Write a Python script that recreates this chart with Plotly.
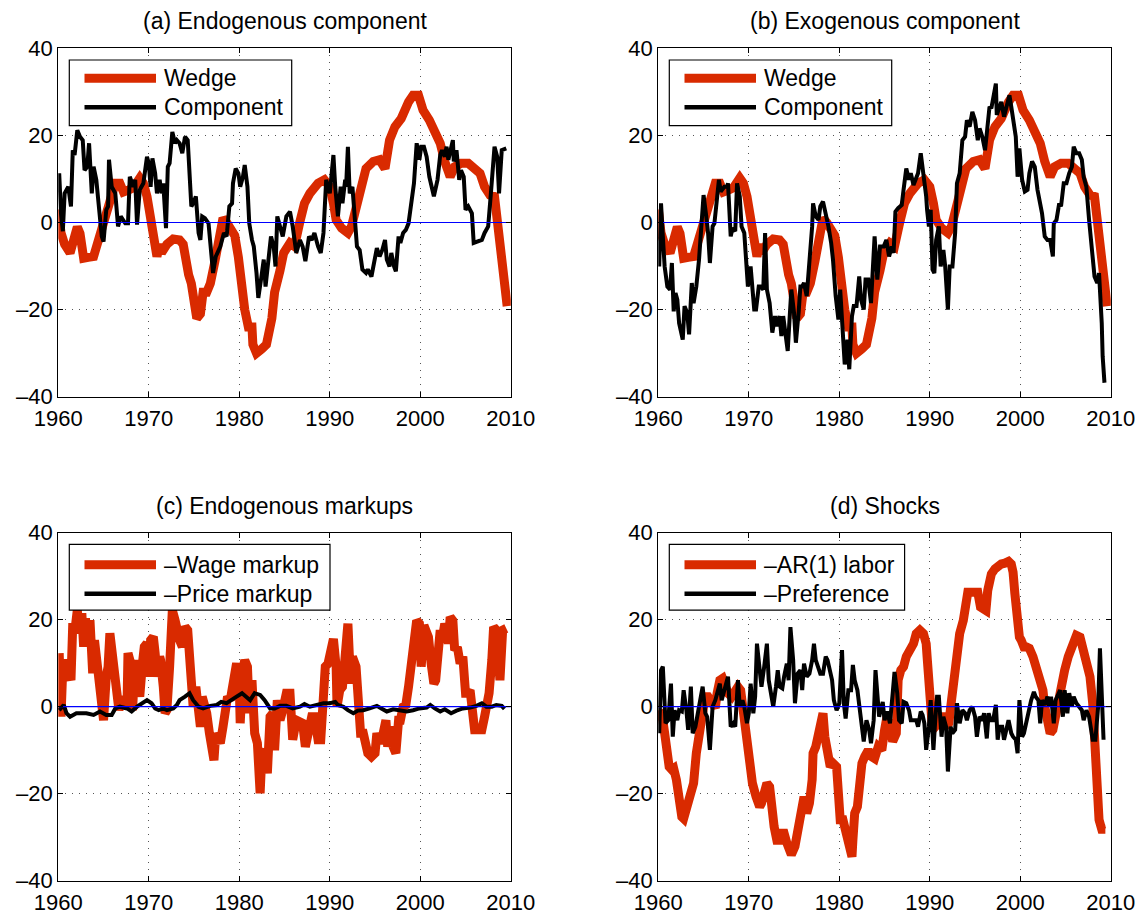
import plotly.graph_objects as go

# ---------------- data ----------------
wedge = [(1960.0,3),(1960.3,-2.4),(1960.7,-5),(1961.3,-7),(1961.7,-4),(1962.1,-1),(1962.4,-2.5),(1962.8,-8.2),
(1963.3,-8),(1963.9,-7.8),(1964.3,-5),(1964.8,-1),(1965.3,3),(1965.8,6),(1966.3,9),(1966.8,9),(1967.2,7),(1967.8,7.5),
(1968.3,8),(1969.0,10.2),(1969.4,9),(1969.8,6),(1970.3,-1),(1970.7,-5.5),(1970.9,-7.8),(1971.2,-5),(1971.4,-7),(1971.7,-6),
(1972.0,-5),(1972.7,-3.8),(1973.4,-4),(1973.8,-5),(1974.0,-7.8),(1974.4,-12),(1974.7,-14),(1975.1,-20),(1975.3,-22),
(1975.7,-21),(1976.0,-16),(1976.4,-16),(1976.8,-14),(1977.3,-9),(1977.7,-5),(1978.0,0),(1978.2,1),(1978.6,0),(1979.0,-1),
(1979.5,-3),(1979.9,-8),(1980.1,-12),(1980.3,-15),(1980.6,-20),(1981.0,-24),(1981.4,-24),(1981.5,-28),(1981.9,-30),
(1982.5,-29),(1983.0,-28),(1983.6,-22),(1983.9,-16),(1984.5,-11),(1984.9,-7),(1985.6,-4.7),(1986.1,-5.5),(1986.7,0.2),
(1987.2,4.4),(1987.8,6.7),(1988.3,7.9),(1988.7,9),(1989.4,9.8),(1990.0,8.2),(1990.4,4.4),(1990.7,0.6),(1991.3,-1.3),
(1992.0,-2.4),(1992.4,-0.9),(1992.9,2.9),(1993.5,8.2),(1994.0,12.4),(1994.8,14),(1995.5,14.4),(1996.1,12.4),(1996.6,18.9),
(1997.2,22),(1997.9,23.9),(1998.7,27.7),(1999.2,29.2),(1999.8,29.2),(2000.3,25.8),(2001.0,23.5),(2001.6,21.2),(2002.2,18.2),
(2002.7,14),(2003.3,10.5),(2003.8,12.8),(2004.5,13.6),(2005.3,13.6),(2005.8,12.8),(2006.6,11.3),(2007.1,8.2),(2007.7,6.3),
(2008.2,6),(2008.6,-0.9),(2009.0,-11.6),(2009.6,-19.2)]

endog_component = [(1960.1,11.3),(1960.3,2),(1960.5,-2),(1960.7,6.7),(1961.1,8.2),(1961.4,3.7),(1961.6,16.6),(1961.8,15.5),
(1962.1,21.2),(1962.4,19.7),(1962.7,18.9),(1962.9,12),(1963.2,12.8),(1963.4,18.2),(1963.7,6.7),(1963.9,12.8),(1964.2,9.8),
(1964.4,6),(1964.8,-3.2),(1965.0,-4.4),(1965.3,2.9),(1965.5,3.7),(1965.6,14.4),(1965.9,8.2),(1966.3,6.7),(1966.6,-0.9),
(1966.9,1.4),(1967.4,-0.2),(1967.7,-0.2),(1967.9,10.5),(1968.3,8.2),(1968.5,9.8),(1968.7,-0.5),(1969.0,7.5),(1969.4,9),
(1969.8,15.1),(1970.0,13.6),(1970.2,8.2),(1970.4,14.7),(1970.7,11.3),(1970.9,6.7),(1971.2,9.8),(1971.4,6.7),(1971.6,9),
(1971.9,-1.3),(1972.1,12.8),(1972.3,13.6),(1972.6,20.8),(1972.9,18.2),(1973.1,18.9),(1973.4,18.2),(1973.7,15.9),(1974.0,19.7),
(1974.3,18.9),(1974.5,9),(1974.7,3.7),(1974.9,4.4),(1975.2,6),(1975.5,-2.4),(1975.7,-4),(1975.9,1.4),(1976.2,1),(1976.6,-0.2),
(1976.8,-4.7),(1977.1,-11.6),(1977.4,-7.8),(1977.7,-6.3),(1977.9,-5.5),(1978.3,-2.4),(1978.6,-3.2),(1978.9,3.7),(1979.2,4.4),
(1979.3,9),(1979.6,12.4),(1979.9,11.3),(1980.1,8.2),(1980.4,10.5),(1980.6,13.2),(1980.9,8.2),(1981.1,-0.2),(1981.4,-4),
(1981.6,-5.5),(1981.9,-11.6),(1982.1,-17.3),(1982.4,-13.1),(1982.7,-8.5),(1982.9,-14.7),(1983.2,-9.3),(1983.5,-3.2),
(1983.8,-5.5),(1984.0,-10.1),(1984.2,1.4),(1984.8,-3.2),(1985.2,1.4),(1985.6,2.5),(1985.9,-0.9),(1986.3,-7),(1986.7,-4),
(1987.0,-5.5),(1987.3,-8.9),(1987.7,-3.2),(1988.0,-4),(1988.3,-2.4),(1988.7,-5.5),(1989.0,-7),(1989.3,-2.4),(1989.6,9.8),
(1990.0,6.7),(1990.4,15.5),(1990.6,8.2),(1990.9,1.4),(1991.2,8.2),(1991.4,4.4),(1991.7,9.8),(1991.8,8.2),(1992.0,17.4),
(1992.2,6.7),(1992.5,8.2),(1992.8,1.4),(1993.0,-5.5),(1993.3,-6.3),(1993.6,-10.8),(1994.0,-11.6),(1994.2,-10.8),(1994.6,-12.4),
(1995.0,-8.5),(1995.2,-5.9),(1995.5,-7.8),(1995.8,-6.3),(1996.1,-4),(1996.3,-8.5),(1996.6,-10.1),(1996.8,-7),(1997.1,-10.1),
(1997.3,-11.2),(1997.6,-3.2),(1997.8,-4.7),(1998.1,-2.4),(1998.4,-1.7),(1998.7,-0.2),(1999.0,5.2),(1999.3,9),(1999.6,18.2),
(1999.9,14.4),(2000.1,17.4),(2000.4,17.4),(2000.7,15.1),(2001.0,10.5),(2001.5,6),(2001.9,9.8),(2002.2,15.5),(2002.4,16.6),
(2002.7,15.1),(2002.9,17.4),(2003.1,14.4),(2003.3,16.6),(2003.6,18.9),(2003.7,14),(2004.0,16.6),(2004.3,9.8),(2004.5,12),
(2004.8,10.5),(2005.0,2.9),(2005.3,3.7),(2005.7,2.1),(2005.9,-4.7),(2006.3,-4.4),(2006.8,-4),(2007.1,-2.4),(2007.5,-0.9),
(2007.8,6.7),(2008.0,12.8),(2008.2,17.4),(2008.5,15.1),(2008.7,6.7),(2009.0,16.6),(2009.5,17)]

exog_component = [(1960.1,-10.1),(1960.3,4.4),(1960.5,-3.2),(1960.7,-10.1),(1961.0,-14.7),(1961.3,-15.4),(1961.5,-9.3),
(1961.7,-20.4),(1961.9,-16.2),(1962.1,-17.7),(1962.3,-23.1),(1962.7,-26.9),(1962.9,-19.2),(1963.2,-20.8),(1963.4,-25.7),
(1963.7,-13.9),(1963.9,-18.5),(1964.2,-14.7),(1964.5,-8.5),(1964.8,-0.9),(1965.0,6.3),(1965.3,1.4),(1965.5,-2.4),(1965.7,-9.3),
(1966.0,-0.9),(1966.2,-0.2),(1966.4,3.7),(1966.7,9.8),(1966.9,7.1),(1967.3,8.2),(1967.6,8.2),(1967.7,9),(1968.0,-3.2),
(1968.2,-1.3),(1968.5,-2),(1968.7,9),(1969.0,6),(1969.2,-0.9),(1969.5,-2.4),(1969.7,-8.5),(1969.9,-14.7),(1970.2,-10.1),
(1970.4,-14.7),(1970.6,-20),(1970.8,-20),(1971.1,-14.7),(1971.3,-14.7),(1971.6,-15.4),(1971.8,-2.4),(1972.0,-15.4),
(1972.3,-18.5),(1972.6,-25.3),(1972.9,-21.5),(1973.1,-23.8),(1973.4,-21.5),(1973.6,-26.1),(1973.8,-21.5),(1974.0,-24.6),
(1974.3,-29.5),(1974.5,-22.3),(1974.7,-15.4),(1975.0,-20.8),(1975.2,-27.6),(1975.5,-20.8),(1975.7,-14.7),(1975.9,-14.7),
(1976.1,-13.9),(1976.4,-16.9),(1976.7,-10.1),(1977.0,-0.9),(1977.1,4.4),(1977.4,1.4),(1977.7,0.6),(1977.9,3.7),(1978.2,4.8),
(1978.5,2.1),(1978.8,-0.9),(1979.1,-4.7),(1979.3,-8.5),(1979.6,-16.9),(1979.9,-22.3),(1980.1,-15.4),(1980.4,-25.3),
(1980.6,-32.6),(1980.9,-26.9),(1981.1,-33.7),(1981.4,-21.5),(1981.6,-19.2),(1981.9,-19.2),(1982.2,-12.4),(1982.4,-17.7),
(1982.7,-20),(1982.9,-13.1),(1983.2,-13.1),(1983.5,-18.5),(1983.7,-10.1),(1983.9,-3.2),(1984.2,-13.1),(1984.5,-5.5),
(1984.9,-5.5),(1985.2,-4),(1985.5,-7.8),(1985.8,-5.5),(1986.0,-7),(1986.2,2.5),(1986.5,3.3),(1986.9,4),(1987.1,7.5),
(1987.4,12.4),(1987.7,9.8),(1987.9,11.3),(1988.2,8.6),(1988.5,10.5),(1988.7,11.3),(1989.0,15.9),(1989.3,11.3),(1989.6,6),
(1989.7,2.9),(1989.9,-0.9),(1990.1,2.9),(1990.3,-10.8),(1990.5,-11.6),(1990.7,-4),(1991.0,-0.9),(1991.2,-10.1),(1991.5,-6.3),
(1991.7,-10.1),(1992.0,-20),(1992.2,-10.1),(1992.5,-10.1),(1992.8,-2.4),(1993.0,9),(1993.3,11.3),(1993.6,18.9),(1993.9,19.7),
(1994.1,23.5),(1994.4,22),(1994.7,25.4),(1995.0,23.5),(1995.3,18.9),(1995.5,21.6),(1995.8,19.7),(1996.1,16.6),(1996.3,20.5),
(1996.6,26.6),(1996.8,26.2),(1997.0,28.9),(1997.3,31.9),(1997.4,24.7),(1997.7,26.6),(1997.9,27.7),(1998.2,24.3),(1998.5,26.6),
(1998.8,29.2),(1999.0,26.6),(1999.3,22.7),(1999.5,19.7),(1999.7,10.5),(1999.9,17),(2000.2,9.8),(2000.5,7.1),(2000.8,7.5),
(2001.0,11.3),(2001.3,14),(2001.6,12.8),(2001.9,7.5),(2002.2,3.7),(2002.4,2.1),(2002.7,-3.2),(2003.0,-4),(2003.3,-4),
(2003.6,-7.8),(2003.7,-0.2),(2004.0,0.6),(2004.3,4.4),(2004.5,3.7),(2004.8,9),(2005.1,9),(2005.4,11.3),(2005.7,12.8),
(2005.9,17.4),(2006.2,15.9),(2006.5,15.9),(2006.8,14.4),(2007.0,10.5),(2007.3,8.2),(2007.6,0.6),(2007.9,-7),(2008.2,-12.4),
(2008.5,-13.9),(2008.7,-11.6),(2009.0,-23.1),(2009.1,-30.7),(2009.3,-36.8)]

wage_markup = [(1960.1,12.3),(1960.3,-2.3),(1960.5,9.2),(1960.7,10.7),(1960.9,9.2),(1961.2,6.1),(1961.4,6.1),(1961.6,19.2),
(1961.8,16.9),(1962.1,22.2),(1962.3,17.6),(1962.6,21.5),(1962.8,13.8),(1963.0,20.3),(1963.2,14.6),(1963.5,19.9),(1963.8,7.7),
(1964.0,15.3),(1964.2,10.7),(1964.5,4.6),(1964.8,0),(1965.0,-3.1),(1965.3,6.9),(1965.5,9.2),(1965.7,16.9),(1966.0,10.7),
(1966.3,9.2),(1966.4,2.3),(1966.7,-0.8),(1967.0,2.3),(1967.3,0.8),(1967.6,0.8),(1967.7,12.3),(1968.0,10),(1968.2,-0.8),
(1968.5,10.7),(1968.7,4.6),(1969.0,2.3),(1969.3,10),(1969.5,13.8),(1969.8,14.6),(1970.0,6.9),(1970.2,15.3),(1970.5,16.1),
(1970.7,12.3),(1970.9,6.9),(1971.2,11.5),(1971.3,10.7),(1971.6,4.6),(1971.8,-1.5),(1972.0,-0.8),(1972.3,9.2),(1972.4,13.8),
(1972.6,22.2),(1972.9,19.9),(1973.1,17.6),(1973.4,15.3),(1973.7,13.8),(1974.0,18.4),(1974.3,17.6),(1974.5,7.7),(1974.7,1.5),
(1974.9,0),(1975.2,4.6),(1975.5,-1.5),(1975.7,-4.6),(1975.9,2.3),(1976.2,0),(1976.4,-1.5),(1976.7,-6.1),(1976.9,-10.7),
(1977.2,-12.3),(1977.4,-6.1),(1977.7,-8.4),(1977.9,-8.4),(1978.2,-4.6),(1978.4,-2.3),(1978.7,2.3),(1979.0,1.5),(1979.2,4.6),
(1979.5,9.2),(1979.7,10),(1980.0,4.6),(1980.1,-3.8),(1980.4,8.4),(1980.6,10.7),(1980.9,9.2),(1981.1,-1.5),(1981.4,6.1),
(1981.5,0.8),(1981.7,-6.1),(1982.0,-8.4),(1982.3,-19.9),(1982.5,-10.7),(1982.8,-10),(1983.1,-15.3),(1983.4,-2.3),
(1983.7,-1.5),(1983.9,-10),(1984.2,1.5),(1984.5,-3.1),(1984.8,-0.8),(1985.2,3.1),(1985.6,3.1),(1985.9,-7.6),(1986.3,-3.1),
(1986.7,-3.8),(1987.0,-3.8),(1987.3,-9.2),(1987.7,-3.1),(1988.0,-2.3),(1988.3,-2.3),(1988.7,-7.6),(1989.0,-7.6),(1989.3,0),
(1989.5,9.2),(1989.8,9.9),(1990.1,14.5),(1990.4,15.6),(1990.7,9.2),(1990.8,0),(1991.1,3.8),(1991.4,4.6),(1991.6,9.2),
(1991.8,15.3),(1992.0,19.1),(1992.3,5.3),(1992.5,11.5),(1992.9,9.2),(1993.1,0.8),(1993.4,-6.1),(1993.7,-6.1),(1994.0,-9.9),
(1994.2,-10.7),(1994.6,-11.5),(1995.0,-10.7),(1995.2,-6.1),(1995.5,-8.4),(1995.9,-6.1),(1996.2,-3.1),(1996.4,-9.2),
(1996.7,-4.6),(1997.0,-9.2),(1997.3,-10.7),(1997.6,-3.1),(1997.8,-3.1),(1998.1,0),(1998.4,0.4),(1998.7,4.6),(1999.0,9.9),
(1999.3,13.7),(1999.6,19.8),(1999.9,19.1),(2000.1,9.2),(2000.4,18.7),(2000.7,17.6),(2000.9,16),(2001.2,9.9),(2001.5,5.3),
(2001.7,6.1),(2002.0,16.8),(2002.2,17.6),(2002.4,15.3),(2002.7,19.1),(2002.9,17.6),(2003.1,14.5),(2003.3,20.6),(2003.6,19.8),
(2003.8,13),(2004.1,13.7),(2004.4,9.9),(2004.7,11.5),(2005.0,3.1),(2005.2,3.1),(2005.5,3.8),(2005.8,-3.1),(2006.0,-5.3),
(2006.4,-5.3),(2006.8,-5.3),(2007.1,-2.3),(2007.4,0),(2007.6,3.1),(2007.9,10.7),(2008.1,18.3),(2008.4,17.6),(2008.6,12.2),
(2008.8,6.1),(2009.1,17.6),(2009.5,18)]

price_markup = [(1960.1,-0.8),(1960.6,0.4),(1960.9,-1.5),(1961.3,-2.3),(1962.0,-1.5),(1963.1,-1.5),(1963.9,-1.9),(1964.6,-1.1),
(1965.3,-1.9),(1965.9,-1.9),(1966.3,-0.4),(1966.8,0),(1967.6,-0.4),(1968.1,-1.1),(1968.7,0),(1969.2,0.8),(1969.8,1.5),
(1970.3,0.8),(1970.7,-0.4),(1971.1,-0.8),(1971.6,-0.4),(1972.0,-0.8),(1972.7,-0.4),(1973.1,0.4),(1973.4,1.5),(1974.0,2.3),
(1974.5,3.1),(1974.9,1.5),(1975.5,0),(1976.0,-0.4),(1976.8,0.2),(1977.5,0.4),(1978.0,1.1),(1978.6,0.8),(1979.2,1.5),
(1979.7,2.3),(1980.3,3.1),(1980.8,2.3),(1981.2,1.5),(1981.7,3.1),(1982.3,2.7),(1982.8,1.5),(1983.4,-0.4),(1983.9,-0.4),
(1984.5,0.2),(1985.2,0.2),(1985.9,-0.4),(1986.7,0),(1987.2,0.6),(1987.8,0),(1988.5,0.4),(1989.3,0.8),(1990.0,0.8),
(1990.6,1.1),(1990.9,0.4),(1991.5,0),(1992.0,-0.8),(1992.6,-1.5),(1993.1,-0.9),(1993.7,-0.8),(1994.4,-0.4),(1995.2,0.2),
(1995.7,-0.4),(1996.3,-1.1),(1997.0,-0.6),(1997.7,-0.8),(1998.5,-1.1),(1999.2,-0.8),(1999.9,-0.4),(2000.7,-0.2),(2001.1,0.4),
(2001.6,-0.4),(2002.2,-1.1),(2002.7,-0.6),(2003.4,-1.5),(2004.0,-0.9),(2004.7,-0.4),(2005.5,-0.2),(2006.2,0.2),(2006.8,0.8),
(2007.3,0),(2007.9,0),(2008.4,0.4),(2009.0,0.2),(2009.3,-0.5)]

ar1_labor = [(1960.1,-0.8),(1960.5,-3.1),(1960.7,-6.1),(1960.9,-10.7),(1961.2,-13.8),(1961.5,-14.5),(1961.7,-14.2),(1962.0,-16.8),
(1962.3,-22.2),(1962.6,-25.3),(1962.8,-25.7),(1963.1,-23),(1963.3,-20.7),(1963.7,-19.2),(1963.9,-17.6),(1964.2,-10.7),
(1964.4,-6.9),(1964.7,-3.8),(1965.0,0),(1965.3,2.3),(1965.5,2.3),(1965.9,1.1),(1966.3,-0.3),(1966.5,3.1),(1966.8,6.1),
(1967.1,6.5),(1967.4,4.6),(1967.7,3.1),(1968.1,2.3),(1968.5,3.8),(1968.8,4.6),(1969.1,3.8),(1969.3,0),(1969.6,-4.6),
(1969.8,-9.2),(1970.1,-13.8),(1970.4,-17.6),(1970.8,-20.7),(1971.2,-23),(1971.4,-22.2),(1971.7,-19.9),(1972.0,-17.6),
(1972.3,-18.4),(1972.5,-23),(1972.8,-27.6),(1973.1,-30.7),(1973.4,-30.7),(1973.6,-29.1),(1973.9,-29.1),(1974.2,-31.3),
(1974.5,-33.6),(1974.7,-34),(1975.1,-32.1),(1975.3,-29.1),(1975.6,-24.5),(1975.8,-22.2),(1976.1,-20.7),(1976.4,-24.5),
(1976.7,-22.2),(1977.0,-16.8),(1977.1,-10.7),(1977.4,-9.2),(1977.7,-6.9),(1977.9,-4.6),(1978.2,-1.5),(1978.4,-6.9),
(1978.7,-12.3),(1979.0,-13.8),(1979.3,-13),(1979.7,-13.8),(1979.9,-19.9),(1980.1,-26),(1980.4,-26),(1980.7,-28.4),
(1980.9,-30.7),(1981.1,-33),(1981.4,-34.5),(1981.5,-30.7),(1981.7,-24.5),(1982.0,-23),(1982.3,-15.3),(1982.5,-13),
(1982.8,-11.5),(1983.2,-10),(1983.6,-11.5),(1983.9,-11.9),(1984.3,-9.2),(1984.7,-10),(1985.0,-5.4),(1985.2,-3.1),
(1985.6,-3.8),(1985.9,-8),(1986.3,-6.1),(1986.5,6.1),(1986.8,8.4),(1987.1,9.2),(1987.4,11.5),(1987.7,12.6),(1988.0,13.4),
(1988.2,14.5),(1988.5,16.8),(1988.9,17.6),(1989.3,16.8),(1989.6,14.5),(1989.7,11.5),(1989.9,5.3),(1990.1,0),(1990.3,-5.3),
(1990.6,-4.6),(1990.8,-2.3),(1991.2,-2.3),(1991.5,-2.3),(1991.8,-4.6),(1992.1,-3.8),(1992.4,1.5),(1992.7,6.9),(1992.9,13.7),
(1993.3,16.8),(1993.7,19.8),(1994.0,24.4),(1994.2,26.3),(1994.6,26.3),(1995.0,26.3),(1995.3,26.3),(1995.6,22.9),(1995.9,22.1),
(1996.2,22.1),(1996.4,26.7),(1996.8,30.5),(1997.2,31.7),(1997.6,32.8),(1997.9,32.8),(1998.3,33),(1998.7,33.4),(1999.0,32.8),
(1999.2,30.9),(1999.4,26),(1999.6,19.8),(1999.9,16),(2000.1,15.3),(2000.4,13.7),(2000.7,13.7),(2001.0,13.4),(2001.4,11.5),
(2001.8,8.4),(2002.2,5.3),(2002.5,3.8),(2002.7,0),(2003.0,-3.8),(2003.3,-6.1),(2003.6,-5.3),(2003.9,-1.5),(2004.2,2.3),
(2004.5,5.3),(2004.9,8.4),(2005.3,11.5),(2005.7,14.5),(2006.2,16.4),(2006.6,16),(2006.9,13.7),(2007.3,11.5),(2007.7,6.9),
(2008.0,0.8),(2008.2,-10.7),(2008.4,-19.8),(2008.7,-26),(2009.0,-28.2),(2009.4,-28.2)]

preference = [(1960.1,-6.1),(1960.3,8.4),(1960.5,9.2),(1960.7,0),(1960.8,-3.8),(1961.1,-3.1),(1961.4,5.3),(1961.6,-6.9),
(1961.8,-0.8),(1962.1,-3.1),(1962.3,-0.8),(1962.6,-1.1),(1962.8,3.8),(1963.1,-0.8),(1963.3,-5.3),(1963.6,4.6),(1963.8,-6.1),
(1964.1,-4.6),(1964.3,-2.3),(1964.6,2.3),(1964.9,4.6),(1965.2,-1.5),(1965.4,-2.3),(1965.7,-9.9),(1966.0,0),(1966.3,1.5),
(1966.5,3.1),(1966.8,5.3),(1967.0,1.5),(1967.3,3.8),(1967.5,5.3),(1967.7,6.9),(1968.0,-4.6),(1968.3,-3.8),(1968.5,-4.6),
(1968.8,6.1),(1969.0,0),(1969.3,1.5),(1969.5,0),(1969.8,-3.8),(1970.0,-1.5),(1970.2,5.3),(1970.5,-1.5),(1970.7,2.3),
(1970.9,14.5),(1971.2,9.2),(1971.4,4.6),(1971.7,9.2),(1972.0,14.5),(1972.2,6.1),(1972.4,3.8),(1972.7,0),(1973.0,4.6),
(1973.2,8.4),(1973.4,4.6),(1973.7,4.2),(1973.9,6.9),(1974.2,9.9),(1974.4,6.1),(1974.6,18.3),(1974.9,10.7),(1975.1,0.8),
(1975.4,7.6),(1975.7,8.4),(1975.9,3.8),(1976.1,9.9),(1976.4,6.9),(1976.7,7.6),(1977.0,10.7),(1977.2,14.5),(1977.4,10.7),
(1977.7,8.4),(1977.9,7.6),(1978.2,7.6),(1978.5,11.5),(1978.7,10.7),(1979.0,8.4),(1979.2,6.1),(1979.4,1.5),(1979.7,-0.8),
(1980.0,0.8),(1980.3,13),(1980.5,0.8),(1980.7,-2.7),(1981.0,3.8),(1981.3,3.8),(1981.5,9.6),(1981.7,6.1),(1982.0,3.8),
(1982.2,0),(1982.5,-3.8),(1982.7,-8),(1983.0,-3.1),(1983.3,-5.3),(1983.5,-8.4),(1983.8,-3.1),(1984.0,8.4),(1984.2,2.3),
(1984.4,-2.3),(1984.8,1.1),(1985.0,-3.1),(1985.3,-1.1),(1985.6,-3.8),(1985.9,3.1),(1986.1,8),(1986.4,3.1),(1986.6,-3.1),
(1986.9,-3.8),(1987.1,1.1),(1987.4,0.8),(1987.7,-0.8),(1987.9,-3.1),(1988.2,-3.1),(1988.5,-3.1),(1988.7,-4.6),(1989.0,-1.1),
(1989.2,-1.9),(1989.4,-3.8),(1989.6,-9.9),(1989.9,-4.6),(1990.1,1.5),(1990.4,-9.9),(1990.6,-3.1),(1990.8,2.3),(1991.0,2.3),
(1991.3,-6.9),(1991.5,-2.3),(1991.8,-4.6),(1992.0,-14.9),(1992.3,-4.6),(1992.5,-6.1),(1992.8,-5.3),(1993.0,0.8),(1993.3,-3.8),
(1993.6,-0.8),(1993.9,-1.5),(1994.1,-3.1),(1994.4,-0.8),(1994.7,0),(1995.0,-2.3),(1995.2,-6.9),(1995.5,-2.3),(1995.8,-3.1),
(1996.0,-1.5),(1996.3,-7.3),(1996.5,-1.5),(1996.7,-3.1),(1997.0,-3.1),(1997.3,0.4),(1997.5,-7.6),(1997.7,-4.6),(1998.0,-4.6),
(1998.2,-7.6),(1998.5,-4.6),(1998.7,-3.1),(1999.0,-6.1),(1999.2,-6.9),(1999.5,-7.6),(1999.7,-10.7),(1999.9,1.5),(2000.2,-6.9),
(2000.4,-6.1),(2000.7,-3.1),(2000.9,-0.8),(2001.2,1.5),(2001.5,3.4),(2001.7,2.3),(2002.0,1.5),(2002.2,-3.8),(2002.4,1.5),
(2002.7,0.4),(2003.0,2.3),(2003.2,0),(2003.4,2.3),(2003.7,-3.8),(2003.9,1.5),(2004.2,3.1),(2004.4,3.8),(2004.7,-2.3),
(2004.9,3.8),(2005.2,-1.5),(2005.4,3.1),(2005.7,0),(2005.9,2.3),(2006.2,0.8),(2006.5,0),(2006.8,-0.8),(2007.0,-3.1),
(2007.3,-0.8),(2007.6,-2.3),(2007.8,-5.3),(2008.0,-7.6),(2008.3,-7.6),(2008.6,0),(2008.8,13.4),(2009.0,2.3),(2009.2,-7.6)]

panel_titles = ["(a) Endogenous component", "(b) Exogenous component", "(c) Endogenous markups", "(d) Shocks"]
legend_labels = [["Wedge", "Component"], ["Wedge", "Component"],
                 ["\u2013Wage markup", "\u2013Price markup"], ["\u2013AR(1) labor", "\u2013Preference"]]
x_ticks = [1960, 1970, 1980, 1990, 2000, 2010]
x_ticktext = ["1960", "1970", "1980", "1990", "2000", "2010"]
y_ticks = [-40, -20, 0, 20, 40]
y_ticktext = ["\u201340", "\u201320", "0", "20", "40"]
zero_x = [1960, 2010]
zero_y = [0, 0]

# ---------------- styling / layout ----------------
W, H = 1144, 915
RED = "#D92A00"
FONT = "Liberation Sans, Arial, Helvetica, sans-serif"

def fx(p):
    return p / W

def fy(p):
    return 1 - p / H

col_px = [(58.3, 510.8), (658.3, 1110.8)]
row_px = [(48.3, 396.7), (532.7, 880.7)]

panels = [
    (wedge, endog_component, 0, 0),
    (wedge, exog_component, 0, 1),
    (wage_markup, price_markup, 1, 0),
    (ar1_labor, preference, 1, 1),
]

fig = go.Figure()
layout = dict(width=W, height=H, margin=dict(l=0, r=0, t=0, b=0),
              paper_bgcolor="white", plot_bgcolor="white", showlegend=False,
              template="none", font=dict(family=FONT, color="black"))
shapes = []
annotations = []

for i, (red_series, black_series, r, c) in enumerate(panels):
    n = "" if i == 0 else str(i + 1)
    xa, ya = "x" + n, "y" + n
    x0p, x1p = col_px[c]
    y0p, y1p = row_px[r]
    axis_common = dict(showline=True, linecolor="black", linewidth=1.3, mirror="ticks",
                       ticks="inside", ticklen=5, tickwidth=1, tickcolor="black",
                       showgrid=True, gridcolor="#555555", griddash="1px,6px", gridwidth=1,
                       zeroline=False, automargin=False, fixedrange=True,
                       tickfont=dict(family=FONT, size=22, color="black"))
    layout["xaxis" + n] = dict(axis_common, domain=[fx(x0p), fx(x1p)], range=[1960, 2010],
                               tickvals=x_ticks, ticktext=x_ticktext, anchor=ya,
                               ticklabelstandoff=2)
    layout["yaxis" + n] = dict(axis_common, domain=[fy(y1p), fy(y0p)], range=[-40, 40],
                               tickvals=y_ticks, ticktext=y_ticktext, anchor=xa)

    rx, ry = zip(*red_series)
    bx, by = zip(*black_series)
    fig.add_trace(go.Scatter(x=rx, y=ry, mode="lines", line=dict(color=RED, width=9),
                             xaxis=xa, yaxis=ya, name=legend_labels[i][0]))
    fig.add_trace(go.Scatter(x=bx, y=by, mode="lines", line=dict(color="black", width=4),
                             xaxis=xa, yaxis=ya, name=legend_labels[i][1]))
    fig.add_trace(go.Scatter(x=zero_x, y=zero_y, mode="lines", line=dict(color="#0000FF", width=1.2),
                             xaxis=xa, yaxis=ya, name="zero"))

    # panel title
    annotations.append(dict(text=panel_titles[i], xref="paper", yref="paper",
                            x=fx((x0p + x1p) / 2), y=fy(y0p - 27), xanchor="center", yanchor="middle",
                            showarrow=False, font=dict(family=FONT, size=23, color="black")))

    # legend box drawn in each panel's upper-left corner
    off_x = x0p - 58.3
    off_y = y0p - 48.3
    box_w = [222.4, 222.4, 260.7, 235.3][i]
    bx0, by0 = 69.3 + off_x, 60 + off_y
    bx1, by1 = bx0 + box_w, by0 + 65.7
    shapes.append(dict(type="rect", xref="paper", yref="paper", x0=fx(bx0), x1=fx(bx1),
                       y0=fy(by1), y1=fy(by0), line=dict(color="black", width=1.2),
                       fillcolor="white", layer="above"))
    row_y = [78.3 + off_y + (2 if r == 1 else 0), 107.3 + off_y + (2 if r == 1 else 0)]
    for k, (colr, wid) in enumerate([(RED, 9), ("black", 4.5)]):
        shapes.append(dict(type="line", xref="paper", yref="paper",
                           x0=fx(84.5 + off_x), x1=fx(156 + off_x), y0=fy(row_y[k]), y1=fy(row_y[k]),
                           line=dict(color=colr, width=wid), layer="above"))
        annotations.append(dict(text=legend_labels[i][k], xref="paper", yref="paper",
                                x=fx(162 + off_x), y=fy(row_y[k]), xanchor="left", yanchor="middle",
                                showarrow=False, font=dict(family=FONT, size=23, color="black")))

layout["shapes"] = shapes
layout["annotations"] = annotations
fig.update_layout(**layout)
fig.write_html("out.html", config={"displayModeBar": False},
               post_script="document.body.style.margin='0';document.body.style.overflow='hidden';")
